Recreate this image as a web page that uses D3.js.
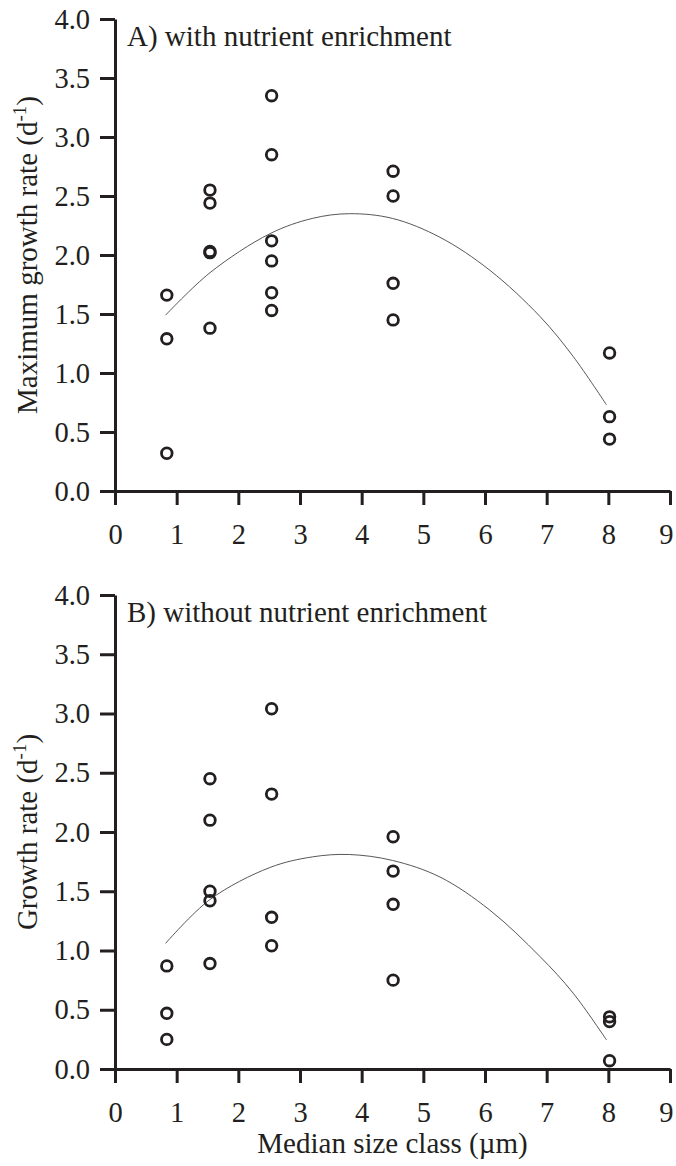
<!DOCTYPE html>
<html>
<head>
<meta charset="utf-8">
<script src="https://cdn.jsdelivr.net/npm/d3@7"></script>
<style>
  body { margin: 0; background: #fff; }
  svg { display: block; }
</style>
</head>
<body>
<svg id="chart" width="676" height="1166"></svg>
<script>
// size classes (µm) and the growth rates measured in each one
const sizeClasses = [0.84, 1.54, 2.54, 4.51, 8.02];
const growthEnriched = [
  [1.66, 1.29, 0.32],
  [2.55, 2.44, 2.03, 2.02, 1.38],
  [3.35, 2.85, 2.12, 1.95, 1.68, 1.53],
  [2.71, 2.50, 1.76, 1.45],
  [1.17, 0.63, 0.44],
];
const growthAmbient = [
  [0.87, 0.47, 0.25],
  [2.45, 2.10, 1.50, 1.42, 0.89],
  [3.04, 2.32, 1.28, 1.04],
  [1.96, 1.67, 1.39, 0.75],
  [0.44, 0.40, 0.07],
];

// fitted curves
const fitX = [0.82, 1.54, 2.51, 3.2, 3.8, 4.5, 5.27, 6.08, 6.89, 7.43, 7.97];
const fitEnriched = [1.49, 1.85, 2.18, 2.31, 2.35, 2.31, 2.15, 1.87, 1.48, 1.14, 0.73];
const fitAmbient = [1.06, 1.43, 1.70, 1.79, 1.81, 1.76, 1.62, 1.34, 0.95, 0.64, 0.245];

const xTicks = d3.range(0, 10);
const yTicks = d3.range(0, 4.01, 0.5);

const ink = '#231f20';
const font = "'Liberation Serif', 'Times New Roman', serif";

const svg = d3.select('#chart')
    .style('font-family', font);

const x = d3.scaleLinear().domain([0, 9]).range([115, 670]);

function drawPanel({ top, bottom, label, yTitle, values, fit }) {
  const y = d3.scaleLinear().domain([0, 4]).range([bottom, top]);
  const g = svg.append('g');

  const xAxis = g.append('g')
      .attr('transform', `translate(0,${bottom})`)
      .call(d3.axisBottom(x).tickValues(xTicks).tickSize(14).tickSizeOuter(0).tickPadding(19)
        .tickFormat(d3.format('d')));
  const yAxis = g.append('g')
      .attr('transform', `translate(${x(0)},0)`)
      .call(d3.axisLeft(y).tickValues(yTicks).tickSize(15).tickSizeOuter(0).tickPadding(10)
        .tickFormat(d3.format('.1f')));

  [xAxis, yAxis].forEach(a => {
    a.selectAll('path, line').attr('stroke', ink).attr('stroke-width', 3);
    a.selectAll('text')
        .attr('fill', ink)
        .style('font-family', font)
        .style('font-size', '28.5px');
  });
  // last label sits against the page edge, keep it inside
  xAxis.selectAll('.tick text')
      .filter(d => d === 9)
      .attr('text-anchor', 'end')
      .attr('x', 3);

  // fitted curve
  g.append('path')
      .datum(fitX.map((d, i) => [d, fit[i]]))
      .attr('fill', 'none')
      .attr('stroke', '#444')
      .attr('stroke-width', 0.9)
      .attr('d', d3.line().x(d => x(d[0])).y(d => y(d[1])).curve(d3.curveCatmullRom.alpha(0.5)));

  const pts = values.flatMap((col, i) => col.map(v => [sizeClasses[i], v]));
  g.selectAll('circle')
      .data(pts)
      .enter().append('circle')
      .attr('cx', d => x(d[0]))
      .attr('cy', d => y(d[1]))
      .attr('r', 5.3)
      .attr('fill', 'none')
      .attr('stroke', ink)
      .attr('stroke-width', 2.8);

  g.append('text')
      .attr('x', 127)
      .attr('y', top + 27)
      .attr('fill', ink)
      .style('font-size', '29px')
      .text(label);

  const title = g.append('text')
      .attr('transform', `translate(37,${(top + bottom) / 2}) rotate(-90)`)
      .attr('text-anchor', 'middle')
      .attr('fill', ink)
      .style('font-size', '29px');
  title.append('tspan').text(yTitle + ' (d');
  title.append('tspan').attr('dy', -11).style('font-size', '19px').text('-1');
  title.append('tspan').attr('dy', 11).text(')');
}

drawPanel({
  top: 19, bottom: 491,
  label: 'A) with nutrient enrichment',
  yTitle: 'Maximum growth rate',
  values: growthEnriched,
  fit: fitEnriched,
});

drawPanel({
  top: 595, bottom: 1069,
  label: 'B) without nutrient enrichment',
  yTitle: 'Growth rate',
  values: growthAmbient,
  fit: fitAmbient,
});

svg.append('text')
    .attr('x', (x(0) + x(9)) / 2)
    .attr('y', 1153)
    .attr('text-anchor', 'middle')
    .attr('fill', ink)
    .style('font-size', '29px')
    .text('Median size class (µm)');
</script>
</body>
</html>
